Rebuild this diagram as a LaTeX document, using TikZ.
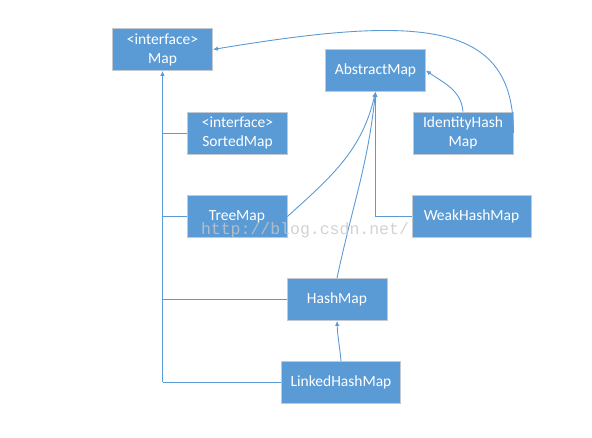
\documentclass[tikz,border=0pt]{standalone}
\usepackage{fontspec}
\setmainfont{Carlito}
\newfontfamily\wmfont{Liberation Mono}
\usetikzlibrary{arrows.meta}
\definecolor{mapblue}{HTML}{5B9BD5}
\definecolor{boxedge}{HTML}{C3C9D1}
\begin{document}
\begin{tikzpicture}[x=1bp,y=1bp,
  cls/.style={rectangle, fill=mapblue, draw=boxedge, line width=0.8bp, text=white, minimum width=100bp, minimum height=42bp, inner sep=0pt, align=center, font=\fontsize{15.5bp}{19bp}\selectfont},
  link/.style={draw=mapblue, line width=0.9bp},
  tip/.style={-{Latex[length=5bp,width=4.5bp]}}]
\useasboundingbox (0,0) rectangle (592,438);
\node[cls] (map) at (162.5,388.5){<interface>\\Map};
\node[cls] (abstract) at (375.5,367.5){AbstractMap};
\node[cls] (sorted) at (237.5,305){<interface>\\SortedMap};
\node[cls] (ident) at (463,305){IdentityHash\\Map};
\node[cls] (tree) at (237,221.5){TreeMap};
\node[cls, minimum width=119bp] (weak) at (471.5,221.5){WeakHashMap};
\node[cls] (hash) at (337,138.5){HashMap};
\node[cls, minimum width=119bp] (linked) at (341,55.5){LinkedHashMap};
\coordinate (hmid) at (map.south |- hash.west);
\coordinate (lmid) at (map.south |- linked.west);
\draw[link, line width=1.8bp, tip](hmid) -- (map.south);
\draw[link](lmid) -- (hmid);
\draw[link](sorted.west) -- (sorted.west -| map.south);
\draw[link](tree.west) -- (tree.west -| map.south);
\draw[link](hash.west) -- (hmid);
\draw[link](linked.west) -- (lmid);
\draw[link, tip](weak.west) -| (abstract.south);
\draw[link, tip](tree.east) to[out=42,in=-103] (abstract.south);
\draw[link, tip](hash.north) to[out=78,in=-96] (abstract.south);
\draw[link, tip](ident.north) to[out=95,in=-35] (abstract.east);
\draw[link, tip](ident.east) .. controls (514,418) and (420,423) .. (map.east);
\draw[link, tip](linked.north) to[out=95,in=-88] (hash.south);
\node[text=black!22, text opacity=0.8, font=\wmfont\fontsize{16.5bp}{18bp}\selectfont] (mark) at (305,208){http://blog.csdn.net/};
\end{tikzpicture}
\end{document}
